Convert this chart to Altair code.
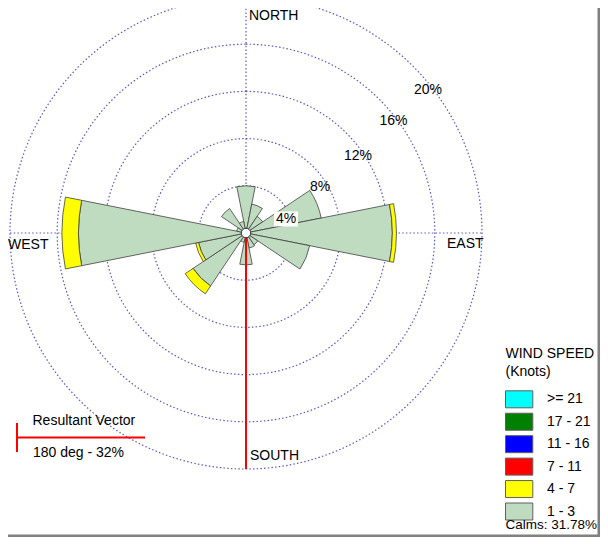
import math
import altair as alt
import pandas as pd

# ---------------- data ----------------
directions = ["N", "NNE", "NE", "ENE", "E", "ESE", "SE", "SSE",
              "S", "SSW", "SW", "WSW", "W", "WNW", "NW", "NNW"]
dir_deg = [0, 22.5, 45, 67.5, 90, 112.5, 135, 157.5,
           180, 202.5, 225, 247.5, 270, 292.5, 315, 337.5]
speed_1_3 = [4.0, 2.5, 1.7, 6.5, 12.4, 5.5, 1.2, 1.3,
             2.7, 0.8, 5.4, 4.1, 14.2, 0.8, 2.5, 1.0]
speed_4_7 = [0, 0, 0, 0, 0.35, 0, 0, 0,
             0, 0, 0.8, 0.25, 1.4, 0, 0, 0]

speed_classes = [">= 21", "17 - 21", "11 - 16", "7 - 11", "4 - 7", "1 - 3"]
speed_colors = ["#00FFFF", "#008000", "#0000FF", "#FF0000", "#FFFF00", "#C0DCC0"]

ring_values = [4, 8, 12, 16, 20]
ring_labels = ["4%", "8%", "12%", "16%", "20%"]
ring_label_x = [3.39, 6.27, 9.49, 12.50, 15.42]
ring_label_y = [1.19, 3.90, 6.53, 9.45, 12.12]

compass_labels = ["NORTH", "SOUTH", "EAST", "WEST"]
compass_x = [0.25, 0.34, 17.03, -20.17]
compass_y = [18.4, -18.9, -0.93, -1.02]

calm_pct = 31.78
resultant_deg = 180
resultant_pct = 32
sector_width = 22.5
max_ring = 20

W, H = 592, 529

# ---------------- scales ----------------
CX, CY, R = 238, 225, 236
theta_scale = alt.Scale(domain=[0, 360], range=[0, 2 * math.pi])
radius_scale = alt.Scale(type="linear", domain=[0, max_ring], range=[0, R], zero=True)
xs = alt.Scale(domain=[-max_ring, max_ring], range=[CX - R, CX + R])
ys = alt.Scale(domain=[-max_ring, max_ring], range=[CY + R, CY - R])
color_scale = alt.Scale(domain=speed_classes, range=speed_colors)
FONT = "Liberation Sans"

# ---------------- tables ----------------
rows = []
for d, a, g, y in zip(directions, dir_deg, speed_1_3, speed_4_7):
    rows.append(dict(dir=d, t0=a - sector_width / 2, t1=a + sector_width / 2, r0=0, r1=g, speed="1 - 3"))
    if y > 0:
        rows.append(dict(dir=d, t0=a - sector_width / 2, t1=a + sector_width / 2, r0=g, r1=g + y, speed="4 - 7"))
wedges = pd.DataFrame(rows)

rings = pd.DataFrame({"r": ring_values})
ringlab = pd.DataFrame({"label": ring_labels, "x": ring_label_x, "y": ring_label_y})
compass = pd.DataFrame({"label": compass_labels, "x": compass_x, "y": compass_y})
axes_df = pd.DataFrame({"x": [-max_ring, 0], "x2": [max_ring, 0], "y": [0, -max_ring], "y2": [0, max_ring]})
res_df = pd.DataFrame({"x": [0], "y": [0], "y2": [-max_ring]})
calm_df = pd.DataFrame({"r": [0.4]})
legend_df = pd.DataFrame({"speed": speed_classes, "row": list(range(len(speed_classes)))})

GRID = "#5a5ac8"

center = dict(x=alt.value(CX), y=alt.value(CY))

ring_layer = alt.Chart(rings).mark_arc(filled=False, stroke=GRID, strokeWidth=1.2,
                                       strokeDash=[1.5, 2.2]).encode(
    theta=alt.value(0), theta2=alt.value(2 * math.pi),
    radius=alt.Radius("r:Q", scale=radius_scale, stack=False), **center)

axis_layer = alt.Chart(axes_df).mark_rule(stroke=GRID, strokeWidth=1.2, strokeDash=[1.5, 2.2]).encode(
    x=alt.X("x:Q", scale=xs, axis=None), x2="x2:Q",
    y=alt.Y("y:Q", scale=ys, axis=None), y2="y2:Q")

wedge_layer = alt.Chart(wedges).mark_arc(stroke="#404040", strokeWidth=0.8).encode(
    theta=alt.Theta("t0:Q", scale=theta_scale, stack=False), theta2="t1:Q",
    radius=alt.Radius("r1:Q", scale=radius_scale, stack=False), radius2="r0:Q",
    color=alt.Color("speed:N", scale=color_scale, legend=None), **center)

res_layer = alt.Chart(res_df).mark_rule(color="#FF0000", strokeWidth=2).encode(
    x=alt.X("x:Q", scale=xs, axis=None),
    y=alt.Y("y:Q", scale=ys, axis=None), y2="y2:Q")

calm_layer = alt.Chart(calm_df).mark_arc(fill="white", stroke="#333333", strokeWidth=1).encode(
    theta=alt.value(0), theta2=alt.value(2 * math.pi),
    radius=alt.Radius("r:Q", scale=radius_scale, stack=False), **center)

ringbg_layer = alt.Chart(ringlab[ringlab.label == "4%"]).mark_rect(
    color="white", width=24, height=15).encode(
    x=alt.X("x:Q", scale=xs, axis=None), y=alt.Y("y:Q", scale=ys, axis=None))

ringtxt_layer = alt.Chart(ringlab).mark_text(font=FONT, fontSize=14, color="black",
                                              align="center", baseline="middle").encode(
    x=alt.X("x:Q", scale=xs, axis=None), y=alt.Y("y:Q", scale=ys, axis=None), text="label:N")

compass_layer = alt.Chart(compass).mark_text(font=FONT, fontSize=14, color="black",
                                              align="left", baseline="middle").encode(
    x=alt.X("x:Q", scale=xs, axis=None), y=alt.Y("y:Q", scale=ys, axis=None), text="label:N")

LX = 497.5  # left edge of the legend column
row_scale = alt.Scale(domain=[0, 5], range=[391.3, 503.5])
leg_rect = alt.Chart(legend_df).mark_rect(height=17, stroke="#606060", strokeWidth=1).encode(
    x=alt.value(LX), x2=alt.value(LX + 27.3),
    y=alt.Y("row:Q", scale=row_scale, axis=None),
    color=alt.Color("speed:N", scale=color_scale, legend=None))
leg_text = alt.Chart(legend_df).mark_text(font=FONT, fontSize=14, color="black",
                                          align="left", baseline="middle").encode(
    x=alt.value(LX + 41.5), y=alt.Y("row:Q", scale=row_scale, axis=None), text="speed:N")

notes_df = pd.DataFrame({
    "label": ["WIND SPEED", "(Knots)", f"Calms: {calm_pct:.2f}%",
              "Resultant Vector", f"{resultant_deg} deg - {resultant_pct}%"],
    "px": [LX, LX, LX, 24.5, 25],
    "py": [346, 363.5, 517, 413, 444.5],
    "fs": [14, 14, 13.5, 14, 14],
})
notes_layer = alt.Chart(notes_df).mark_text(font=FONT, color="black",
                                            align="left", baseline="middle").encode(
    x=alt.X("px:Q", scale=alt.Scale(domain=[0, W], range=[0, W]), axis=None),
    y=alt.Y("py:Q", scale=alt.Scale(domain=[0, H], range=[0, H]), axis=None),
    size=alt.Size("fs:Q", scale=None, legend=None),
    text="label:N")

one = pd.DataFrame({"k": [1]})
rv_h = alt.Chart(one).mark_rule(color="#FF0000", strokeWidth=2).encode(
    x=alt.value(9), x2=alt.value(137), y=alt.value(429.5))
rv_v = alt.Chart(one).mark_rule(color="#FF0000", strokeWidth=2).encode(
    x=alt.value(9), y=alt.value(415), y2=alt.value(444))

frame_r = alt.Chart(one).mark_rule(color="#808080", strokeWidth=2.5).encode(
    x=alt.value(W - 1.25), y=alt.value(0), y2=alt.value(H))
frame_b = alt.Chart(one).mark_rule(color="#808080", strokeWidth=2.5).encode(
    x=alt.value(0), x2=alt.value(W), y=alt.value(H - 1.25))

chart = alt.layer(
    ring_layer, axis_layer, wedge_layer, res_layer, calm_layer,
    ringbg_layer, ringtxt_layer, compass_layer,
    leg_rect, leg_text, notes_layer, rv_h, rv_v, frame_r, frame_b,
).resolve_scale(x="independent", y="independent").properties(
    width=W, height=H, padding=0, autosize=alt.AutoSizeParams(type="none"),
    background="white",
).configure_view(stroke=None)

chart.save("out.html", embed_options={"renderer": "svg", "actions": False})
